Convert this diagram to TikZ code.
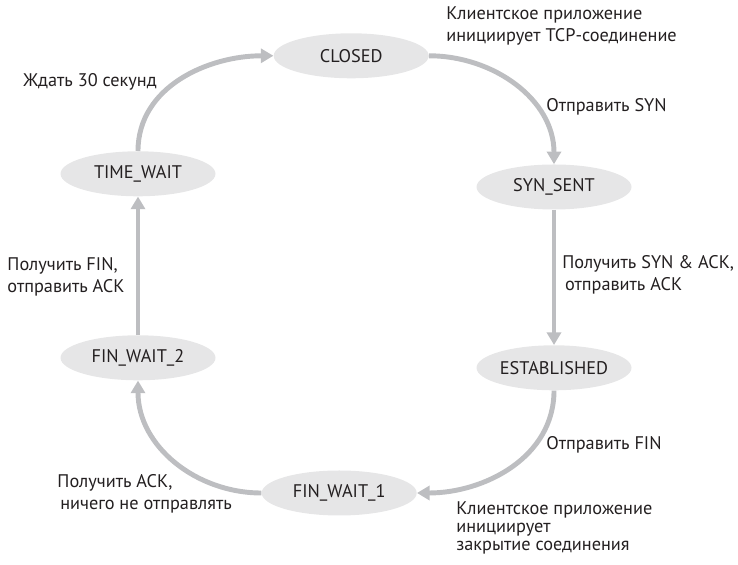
\documentclass[tikz,border=0pt]{standalone}
\usepackage{fontspec}
\setmainfont{PT Sans}
\usetikzlibrary{arrows.meta,shapes.geometric}
\definecolor{stategray}{HTML}{E6E6E7}
\definecolor{arrowgray}{HTML}{BDBEC1}
\definecolor{textgray}{HTML}{231F20}

\begin{document}
\begin{tikzpicture}[
  state/.style={ellipse,fill=stategray,minimum width=3.875cm,minimum height=1.125cm,
    inner sep=0pt,text=textgray,font=\fontsize{13}{16}\selectfont},
  trans/.style={draw=arrowgray,line width=3.5pt,-{Triangle[length=9pt,width=10pt]}},
  lab/.style={anchor=west,align=left,inner sep=0pt,text=textgray,
    font=\fontsize{13}{15.6}\selectfont}
]
\useasboundingbox (0,0) rectangle (18.45,14.125);
% states of the connection
\foreach \n/\x/\y/\t in {closed/8.78/12.73/CLOSED,
                         synsent/13.85/9.45/SYN\_SENT,
                         estab/13.85/4.93/ESTABLISHED,
                         finone/8.48/1.80/FIN\_WAIT\_1,
                         fintwo/3.45/5.18/FIN\_WAIT\_2,
                         timewait/3.45/9.78/TIME\_WAIT}
  \node[state] (\n) at (\x,\y) {\t};
% transitions
\draw[trans] (closed.east) to[out=0,in=90] (synsent.north);
\draw[trans] (synsent.south) -- (estab.north);
\draw[trans] (estab.south) to[out=-90,in=0] (finone.east);
\draw[trans] (finone.west) to[out=180,in=-90] (fintwo.south);
\draw[trans] (fintwo.north) -- (timewait.south);
\draw[trans] (timewait.north) to[out=90,in=180] (closed.west);
% labels
\node[lab] (l1) at (11.15,13.475) {Клиентское приложение\\инициирует TCP-соединение};
\node[lab] (l2) at (13.65,11.45) {Отправить SYN};
\node[lab] (l3) at (14.05,7.25) {Получить SYN \& ACK,\\\hspace{2pt}отправить ACK};
\node[lab] (l4) at (13.65,3.0) {Отправить FIN};
\node[lab,font=\fontsize{13}{12.8}\selectfont] (l5) at (11.4,0.925)
  {Клиентское приложение\\инициирует\\закрытие соединения};
\node[lab] (l6) at (1.43,1.78) {Получить ACK,\\\hspace{2pt}ничего не отправлять};
\node[lab] (l7) at (0.18,7.2) {Получить FIN,\\отправить ACK};
\node[lab] (l8) at (0.58,12.08) {Ждать 30 секунд};
\end{tikzpicture}
\end{document}
